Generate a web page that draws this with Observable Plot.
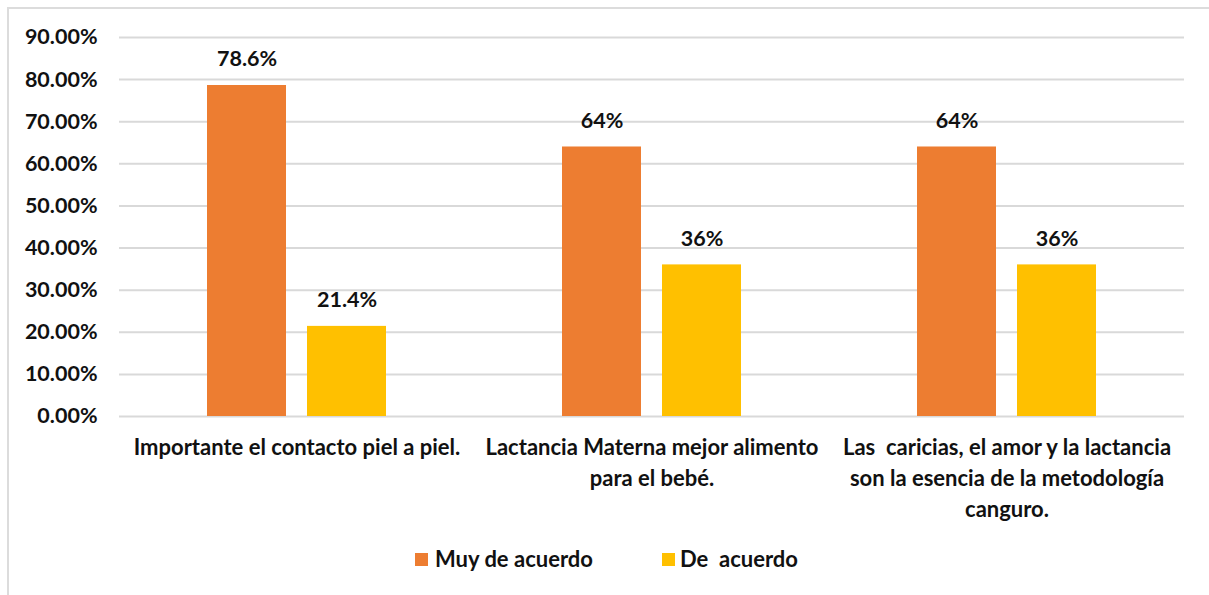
<!DOCTYPE html>
<html>
<head>
<meta charset="utf-8">
<script src="https://cdn.jsdelivr.net/npm/d3@7"></script>
<script src="https://cdn.jsdelivr.net/npm/@observablehq/plot@0.6"></script>
<style>
  html, body { margin: 0; padding: 0; width: 1209px; height: 595px; overflow: hidden; background: #fff; font-family: Lato, sans-serif; }
  #frame { position: absolute; left: 7px; top: 7px; width: 1300px; height: 700px; border: 2px solid #dcdcdc; box-sizing: border-box; }
  #chart { position: absolute; left: 0; top: 0; }
  .leg { position: absolute; font-family: Lato, sans-serif; font-weight: bold; font-size: 22px; line-height: 26px; color: #111; }
  .sw { position: absolute; width: 13px; height: 13px; }
</style>
</head>
<body>
<div id="frame"></div>
<div id="chart"></div>
<div class="sw" style="left:415px; top:553px; background:#ED7D31"></div>
<div class="leg" style="left:435px; top:546px;">Muy de acuerdo</div>
<div class="sw" style="left:662px; top:553px; background:#FFC000"></div>
<div class="leg" style="left:680px; top:546px;">De&nbsp; acuerdo</div>
<script>
const categories = [
  "Importante el contacto piel a piel.",
  "Lactancia Materna mejor alimento\npara el bebé.",
  "Las  caricias, el amor y la lactancia\nson la esencia de la metodología\ncanguro."
];
const seriesNames = ["Muy de acuerdo", "De  acuerdo"];
const muyDeAcuerdo = [0.786, 0.64, 0.64];
const deAcuerdo = [0.214, 0.36, 0.36];
const muyLabels = ["78.6%", "64%", "64%"];
const deLabels = ["21.4%", "36%", "36%"];
const yTicks = [0, 0.1, 0.2, 0.3, 0.4, 0.5, 0.6, 0.7, 0.8, 0.9];
const colors = ["#ED7D31", "#FFC000"];

const data = [];
categories.forEach((c, i) => {
  data.push({cat: c, series: seriesNames[0], value: muyDeAcuerdo[i], label: muyLabels[i]});
  data.push({cat: c, series: seriesNames[1], value: deAcuerdo[i], label: deLabels[i]});
});

const chart = Plot.plot({
  width: 1209,
  height: 530,
  marginLeft: 118,
  marginRight: 25,
  marginTop: 37,
  marginBottom: 114,
  style: {fontFamily: "Lato, sans-serif", fontWeight: "bold", fontSize: "20px", color: "#111", background: "transparent"},
  fx: {domain: categories, padding: 0, axis: null, label: null},
  x: {domain: seriesNames, paddingInner: 0.21, paddingOuter: 0.87, axis: null},
  y: {domain: [0, 0.9], axis: null, label: null},
  color: {domain: seriesNames, range: colors},
  marks: [
    Plot.gridY(yTicks, {stroke: "#d9d9d9", strokeOpacity: 1, strokeWidth: 2}),
    Plot.axisY(yTicks, {tickSize: 0, tickPadding: 22, fontSize: 21.5, fontWeight: "bold", label: null, tickFormat: d => (d * 100).toFixed(2) + "%"}),
    Plot.barY(data, {fx: "cat", x: "series", y: "value", fill: "series"}),
    Plot.text(data, {fx: "cat", x: "series", y: "value", text: "label", dy: -26, fontSize: 21.5, fontWeight: "bold", fill: "#111"}),
    Plot.axisFx({anchor: "bottom", tickSize: 0, tickPadding: 16, fontSize: 22, fontWeight: "bold", lineHeight: 1.41, tickFormat: d => d, label: null})
  ]
});
document.getElementById("chart").appendChild(chart);
</script>
</body>
</html>
